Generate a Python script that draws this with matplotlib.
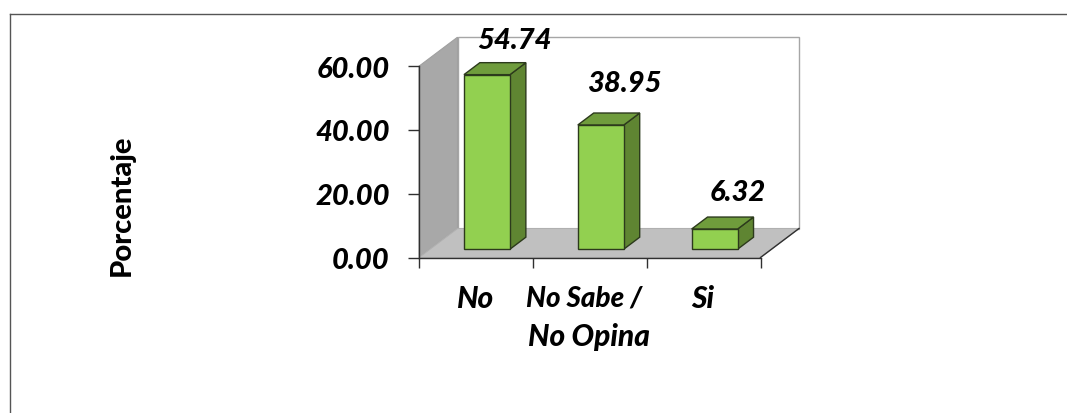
import matplotlib
matplotlib.use("Agg")
import matplotlib.pyplot as plt
from matplotlib.lines import Line2D
from matplotlib.patches import Polygon

categories = ["No", "No Sabe /\nNo Opina", "Si"]
values = [54.74, 38.95, 6.32]
value_labels = ["54.74", "38.95", "6.32"]
y_ticks = [0, 20, 40, 60]
y_title = "Porcentaje"

W, H = 1067, 414
FONT = "Lato"
HEAVY = 900
plt.rcParams["font.family"] = [FONT, "DejaVu Sans"]

fig = plt.figure(figsize=(W / 100, H / 100), dpi=100, facecolor="white")
# axes rectangle = front plane of the 3D box, in pixels
L, R, T, B = 419.0, 760.5, 67.2, 258.5
ax = fig.add_axes([L / W, 1 - B / H, (R - L) / W, (B - T) / H])
ax.set_xlim(0, 3)
ax.set_ylim(0, 60)
ax.patch.set_visible(False)
for s in ax.spines.values():
    s.set_visible(False)

# depth vector of the oblique projection, in data units
DX = 38.5 / ((R - L) / 3)
DY = 29.0 / ((B - T) / 60)


def pj(x, y, d=0.0):
    return (x + d * DX, y + d * DY)


def face(points, fc, ec, lw=1.0, z=2):
    ax.add_patch(Polygon([pj(*p) for p in points], closed=True, facecolor=fc,
                         edgecolor=ec, linewidth=lw, zorder=z, clip_on=False,
                         joinstyle="miter"))


top = y_ticks[-1]
n = len(categories)
# back wall, left wall, floor
face([(0, 0, 1), (n, 0, 1), (n, top, 1), (0, top, 1)], "white", "#a6a6a6", 1.0, 1)
face([(0, 0, 0), (0, 0, 1), (0, top, 1), (0, top, 0)], "#a8a8a8", "#a0a0a0", 0.8, 1)
face([(0, 0, 0), (n, 0, 0), (n, 0, 1), (0, 0, 1)], "#c0c0c0", "#b0b0b0", 0.8, 1)
# dark front edges of the floor
for a, b in [((0, 0, 0), (n, 0, 0)), ((n, 0, 0), (n, 0, 1)), ((0, top, 0), (0, 0, 0))]:
    p, q = pj(*a), pj(*b)
    ax.add_line(Line2D([p[0], q[0]], [p[1], q[1]], color="#303030", lw=1.0,
                       zorder=1.5, clip_on=False))

# bars
BAR_W = 46.0 / ((R - L) / 3)
D0, D1 = 0.287, 0.70
EDGE = "#2c3a1c"
for i, v in enumerate(values):
    x0 = i + 0.5 - BAR_W / 2
    x1 = i + 0.5 + BAR_W / 2
    face([(x1, 0, D0), (x1, 0, D1), (x1, v, D1), (x1, v, D0)], "#5f8532", EDGE, 1.0, 3)
    face([(x0, v, D0), (x1, v, D0), (x1, v, D1), (x0, v, D1)], "#6f9c3c", EDGE, 1.0, 3)
    face([(x0, 0, D0), (x1, 0, D0), (x1, v, D0), (x0, v, D0)], "#92d050", EDGE, 1.0, 4)

# value labels, offset in pixels from the bar's top centre
label_offsets = [(27, 35), (23, 42), (23, 37)]
for i, (v, t, (ox, oy)) in enumerate(zip(values, value_labels, label_offsets)):
    ax.annotate(t, xy=pj(i + 0.5, v, D0), xytext=(ox * 0.72, oy * 0.72),
                textcoords="offset points", ha="center", va="center",
                fontsize=21, fontweight=HEAVY, fontstyle="italic",
                color="black", zorder=6, annotation_clip=False)

# axes ticks
ax.set_yticks(y_ticks)
ax.set_yticklabels([f"{t:.2f}" for t in y_ticks], fontsize=21, fontweight=HEAVY,
                   fontstyle="italic", color="black")
ax.set_xticks(range(n + 1))
ax.set_xticklabels([])
ax.tick_params(axis="y", length=8, width=1, color="#303030", pad=13)
ax.tick_params(axis="x", length=7.5, width=1, color="#303030")

# category labels
cat_pos = [(476, 299, "center", 21.5), (526, 299, "left", 20), (691, 299, "left", 21.5)]
for c, (px, py, ha, fs) in zip(categories, cat_pos):
    lines = c.split("\n")
    fig.text(px / W, 1 - py / H, lines[0], ha=ha, va="center", fontsize=fs,
             fontweight=HEAVY, fontstyle="italic", color="black")
    if len(lines) > 1:
        fig.text((px + 2) / W, 1 - (py + 38) / H, lines[1], ha=ha, va="center",
                 fontsize=21.5, fontweight=HEAVY, fontstyle="italic", color="black")

fig.text(122 / W, 1 - 205 / H, y_title, rotation=90, ha="center", va="center",
         fontsize=21, fontweight=HEAVY, color="black")

# chart-area border (top and left only are visible)
for xs, ys in [((9.5, W), (14.5, 14.5)), ((9.5, 9.5), (14.5, H))]:
    fig.add_artist(Line2D([x / W for x in xs], [1 - y / H for y in ys],
                          color="#555555", lw=1.0))

fig.savefig("out.png", dpi=100, facecolor="white")
